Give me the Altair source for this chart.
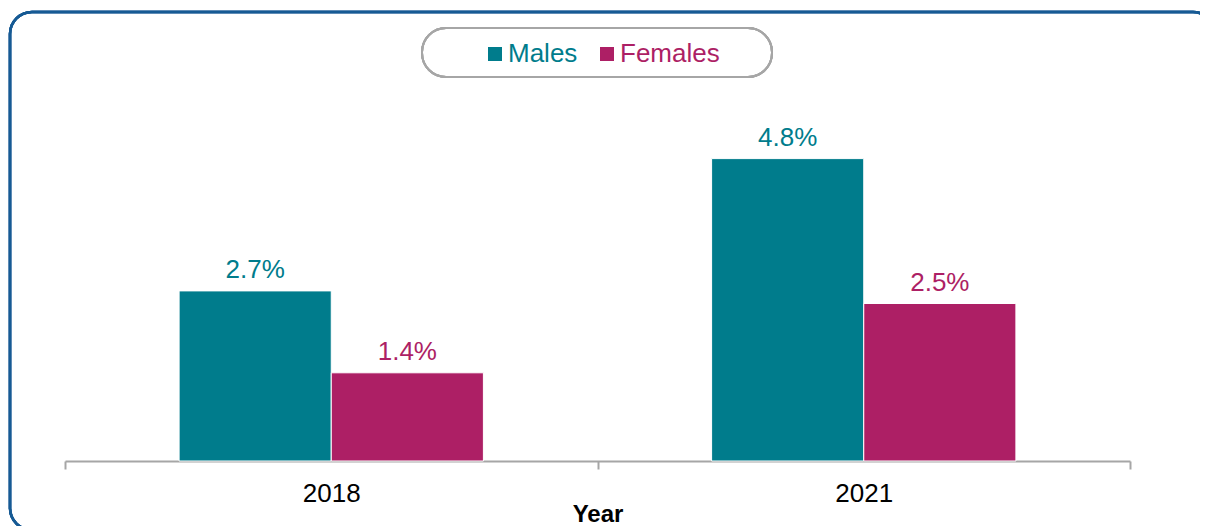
import altair as alt
import pandas as pd

years = ["2018", "2018", "2021", "2021"]
sexes = ["Males", "Females", "Males", "Females"]
values = [2.7, 1.4, 4.8, 2.5]
labels = ["2.7%", "1.4%", "4.8%", "2.5%"]
series = ["Males", "Females"]
colors = ["#007C8C", "#AD1F65"]

df = pd.DataFrame({"Year": years, "Sex": sexes, "Value": values, "Label": labels})

W, H = 1065, 315
FONT = "Liberation Sans"

x = alt.X("Year:N", sort=["2018", "2021"],
          scale=alt.Scale(paddingInner=0, paddingOuter=0),
          axis=alt.Axis(title="Year", tickBand="extent", labelAngle=0,
                        labelFontSize=26, labelColor="black", labelFont=FONT,
                        labelPadding=11, tickSize=8, tickColor="#A6A6A6", tickWidth=2,
                        domainColor="#A6A6A6", domainWidth=2,
                        titleFontSize=24, titleFontWeight="bold", titleColor="black",
                        titleFont=FONT, titleBaseline="alphabetic", titleY=60))
xo = alt.XOffset("Sex:N", sort=series,
                 scale=alt.Scale(paddingInner=0, paddingOuter=0.75))
y = alt.Y("Value:Q", scale=alt.Scale(domain=[0, 5]), axis=None)
color = alt.Color("Sex:N", sort=series,
                  scale=alt.Scale(domain=series, range=colors),
                  legend=alt.Legend(title=None, orient="none", direction="horizontal",
                                    legendX=417, legendY=-105, padding=0,
                                    symbolType="square", symbolSize=196,
                                    symbolStrokeWidth=0, symbolOpacity=1,
                                    labelFontSize=26, labelFont=FONT, labelOffset=0,
                                    columnPadding=16,
                                    labelColor={"expr": "datum.label == 'Males' ? '#007C8C' : '#AD1F65'"}))

bars = alt.Chart(df).mark_bar(stroke="white", strokeWidth=1).encode(
    x=x, xOffset=xo, y=y, color=color)

text = alt.Chart(df).mark_text(baseline="alphabetic", dy=-13, fontSize=26, font=FONT).encode(
    x=x, xOffset=xo, y=y, text="Label:N",
    color=alt.Color("Sex:N", sort=series, scale=alt.Scale(domain=series, range=colors), legend=None))

frame = alt.Chart(df).mark_rect(fill=None, stroke="#165A94", strokeWidth=2.5,
                                cornerRadius=22, clip=False).encode(
    x=alt.value(-55), x2=alt.value(1150), y=alt.value(-134), y2=alt.value(384))

legbox = alt.Chart(df).mark_rect(fill=None, stroke="#A6A6A6", strokeWidth=2,
                                 cornerRadius=24, clip=False).encode(
    x=alt.value(357), x2=alt.value(707), y=alt.value(-118), y2=alt.value(-69))

chart = alt.layer(frame, legbox, bars, text).properties(
    width=W, height=H,
    autosize=alt.AutoSizeParams(type="none"),
    padding={"left": 57, "top": 138, "right": 70, "bottom": 65},
).configure(font=FONT, background="white").configure_view(strokeWidth=0, stroke="transparent")

chart.save("out.html", embed_options={"renderer": "svg", "actions": False})
